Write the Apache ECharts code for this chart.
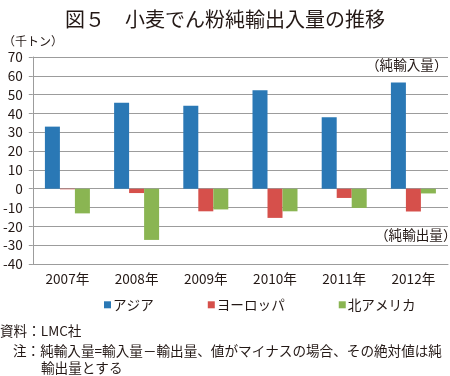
<!DOCTYPE html>
<html>
<head>
<meta charset="utf-8">
<script src="https://cdn.jsdelivr.net/npm/echarts@6/dist/echarts.min.js"></script>
<style>
    html, body { margin: 0; padding: 0; background: #fff; }
    #chart { width: 450px; height: 376px; }
</style>
</head>
<body>
<div id="chart"></div>
<script>
    // 年
    const years = ["2007年", "2008年", "2009年", "2010年", "2011年", "2012年"];
    // 純輸入量（千トン）
    const asia = [33, 45.7, 44.1, 52.3, 38, 56.4];
    const europe = [-0.3, -2.3, -12, -15.5, -4.9, -12.1];
    const northAmerica = [-13.1, -27.2, -11, -12, -10.2, -2.5];
    const yTicks = [-40, 70, 10];

    const font = "'Noto Sans CJK JP', 'Noto Sans', sans-serif";
    const textColor = "#231815";
    const gridColor = "#9c9c9c";

    const chart = echarts.init(document.getElementById("chart"));

    const barSeries = (name, data, color) => ({
        name: name,
        type: "bar",
        data: data,
        barWidth: 15,
        barGap: "0%",
        itemStyle: { color: color },
        animation: false
    });

    chart.setOption({
        backgroundColor: "#fff",
        animation: false,
        textStyle: { fontFamily: font, color: textColor },
        title: {
            text: "図５　小麦でん粉純輸出入量の推移",
            left: "center",
            top: 4,
            textStyle: { fontFamily: font, fontSize: 20, fontWeight: "normal", color: textColor }
        },
        legend: {
            left: 99,
            top: 293,
            itemWidth: 7,
            itemHeight: 7,
            itemGap: 54,
            icon: "rect",
            textStyle: { fontFamily: font, fontSize: 13.6, color: textColor, padding: [0, 0, 0, -3] },
            data: ["アジア", "ヨーロッパ", "北アメリカ"]
        },
        grid: { left: 31, right: 2, top: 57, bottom: 112 },
        xAxis: {
            type: "category",
            data: years,
            axisLine: { onZero: false, lineStyle: { color: gridColor } },
            axisTick: { show: false },
            axisLabel: { fontFamily: font, fontSize: 13.6, color: textColor, margin: 8 }
        },
        yAxis: {
            type: "value",
            min: yTicks[0],
            max: yTicks[1],
            interval: yTicks[2],
            axisLine: { show: true, lineStyle: { color: gridColor } },
            axisTick: { show: true, length: 4, lineStyle: { color: gridColor } },
            splitLine: { lineStyle: { color: gridColor } },
            axisLabel: { fontFamily: font, fontSize: 13.6, color: textColor, margin: 10 }
        },
        graphic: [
            { type: "text", left: 3, top: 35, style: { text: "（千トン）", font: "12px " + font, fill: textColor } },
            { type: "text", left: 366, top: 58, style: { text: "（純輸入量）", font: "13.6px " + font, fill: textColor } },
            { type: "text", left: 375, top: 228, style: { text: "（純輸出量）", font: "13.6px " + font, fill: textColor } },
            { type: "text", left: 0, top: 324, style: { text: "資料：LMC社", font: "13.6px " + font, fill: textColor } },
            { type: "text", left: 13, top: 344, style: { text: "注：純輸入量=輸入量－輸出量、値がマイナスの場合、その絶対値は純", font: "13.6px " + font, fill: textColor } },
            { type: "text", left: 41, top: 361, style: { text: "輸出量とする", font: "13.6px " + font, fill: textColor } }
        ],
        series: [
            barSeries("アジア", asia, "#2a78b5"),
            barSeries("ヨーロッパ", europe, "#d6504b"),
            barSeries("北アメリカ", northAmerica, "#8ab552")
        ]
    });
</script>
</body>
</html>
